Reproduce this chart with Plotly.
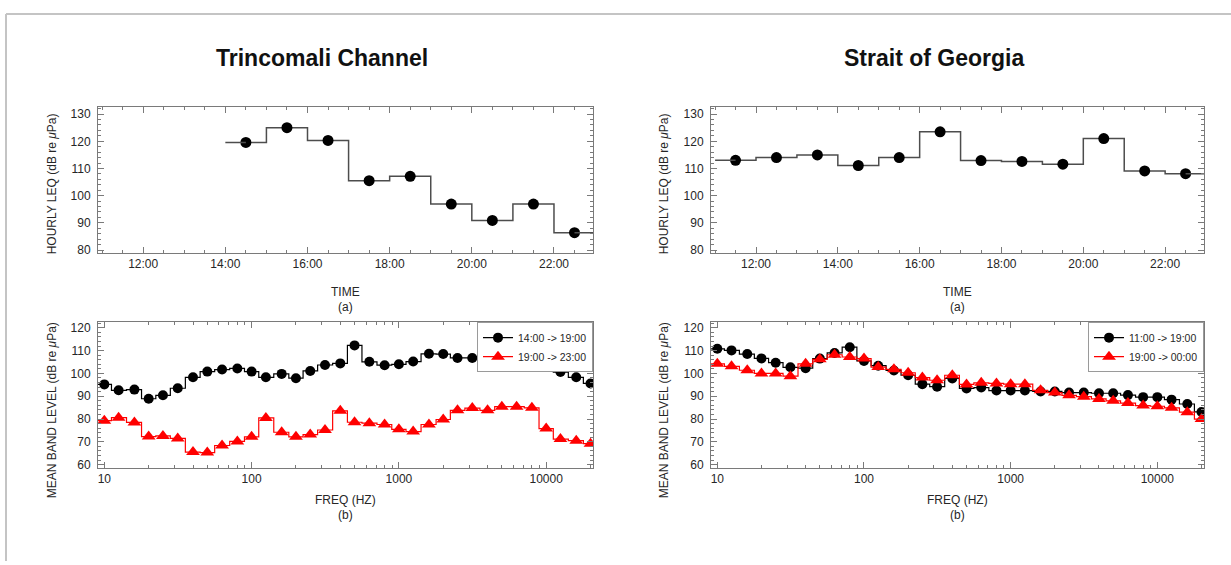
import numpy as np
import plotly.graph_objects as go

# ---------------- data ----------------
# hourly Leq, hour centres (decimal hours)
trinc_hours = [14.5, 15.5, 16.5, 17.5, 18.5, 19.5, 20.5, 21.5, 22.5]
trinc_leq = [119.6, 125.0, 120.3, 105.5, 107.1, 96.9, 90.9, 96.9, 86.4]

georgia_hours = [11.5, 12.5, 13.5, 14.5, 15.5, 16.5, 17.5, 18.5, 19.5, 20.5, 21.5, 22.5]
georgia_leq = [113.0, 114.0, 115.0, 111.1, 114.0, 123.5, 112.9, 112.6, 111.6, 121.0, 109.1, 108.1]

# one-third octave band centre frequencies (Hz)
freq_bands = [10, 12.5, 16, 20, 25, 31.5, 40, 50, 63, 80, 100, 125, 160, 200, 250,
              315, 400, 500, 630, 800, 1000, 1250, 1600, 2000, 2500, 3150, 4000,
              5000, 6300, 8000, 10000, 12500, 16000, 20000]

trinc_day = [95.2, 92.6, 92.9, 88.9, 90.4, 93.5, 98.3, 100.8, 101.7, 102.2, 100.8, 98.3,
             99.8, 97.9, 101.1, 103.7, 104.4, 112.3, 105.1, 103.6, 104.0, 105.2, 108.6,
             108.5, 106.8, 106.8, 105.2, 105.2, 105.2, 104.4, 103.0, 100.6, 98.3, 95.6]
trinc_night = [79.3, 80.6, 78.5, 72.3, 72.6, 71.5, 65.5, 65.3, 68.4, 70.2, 72.2, 80.5,
               74.2, 72.2, 73.2, 75.2, 83.6, 78.6, 78.2, 77.6, 75.5, 74.5, 77.6, 79.8,
               83.8, 84.8, 83.8, 85.4, 85.4, 84.9, 75.8, 71.2, 70.5, 69.2]

georgia_day = [110.8, 110.1, 108.5, 106.6, 104.7, 102.7, 102.3, 106.5, 109.0, 111.5,
               105.5, 103.4, 101.3, 99.2, 95.3, 94.2, 97.8, 93.4, 93.8, 92.5, 92.5, 92.5,
               92.1, 92.1, 91.6, 91.6, 91.3, 91.3, 90.5, 89.6, 89.6, 88.5, 86.6, 83.1]
georgia_night = [104.2, 103.1, 101.4, 100.0, 100.0, 98.8, 104.2, 106.2, 108.2, 107.2,
                 106.5, 102.8, 101.8, 100.3, 98.2, 97.0, 99.2, 95.2, 95.9, 95.6, 95.3,
                 95.3, 92.6, 91.6, 90.4, 89.8, 88.8, 88.0, 87.0, 85.9, 85.6, 84.9, 83.0, 80.0]

time_ticks = [12, 14, 16, 18, 20, 22]
time_labels = ["12:00", "14:00", "16:00", "18:00", "20:00", "22:00"]
freq_ticks = [10, 100, 1000, 10000]
freq_labels = ["10", "100", "1000", "10000"]

legend_left = ["14:00 -> 19:00", "19:00 -> 23:00"]
legend_right = ["11:00 -> 19:00", "19:00 -> 00:00"]

# ---------------- layout helpers ----------------
W, H = 1231, 565
FONT = "Liberation Sans, Arial, Helvetica, sans-serif"
TXT = "#262626"
AX = "#7a7a7a"


def px(x):
    return x / W


def py(y):
    return 1 - y / H


LEFT = (98, 593)
RIGHT = (711, 1204)
TOP = (107, 254)
BOT = (324, 471)


def edges_lin(c):
    c = np.asarray(c, float)
    half0 = (c[1] - c[0]) / 2
    half1 = (c[-1] - c[-2]) / 2
    return c[0] - half0, c[-1] + half1


def edges_log(c):
    c = np.asarray(c, float)
    return c[0] / np.sqrt(c[1] / c[0]), c[-1] * np.sqrt(c[-1] / c[-2])


fig = go.Figure()


def step_series(x, y, xa, ya, color, line_color, symbol, size, name=None,
                legend=None, log=False, lw=1.2):
    show = name is not None
    fig.add_trace(go.Scatter(
        x=x, y=y, xaxis=xa, yaxis=ya, mode="lines+markers",
        line=dict(shape="hvh", color=line_color, width=lw),
        marker=dict(symbol=symbol, size=size, color=color, line=dict(width=0)),
        name=name or "", showlegend=show, legend=legend or "legend",
        hoverinfo="x+y"))
    lo, hi = edges_log(x) if log else edges_lin(x)
    fig.add_trace(go.Scatter(
        x=[lo, x[0], None, x[-1], hi], y=[y[0], y[0], None, y[-1], y[-1]],
        xaxis=xa, yaxis=ya, mode="lines",
        line=dict(color=line_color, width=lw), showlegend=False,
        hoverinfo="skip", connectgaps=False))


# top row: hourly Leq
step_series(trinc_hours, trinc_leq, "x", "y", "black", "#4d4d4d", "circle", 11, lw=1.5)
step_series(georgia_hours, georgia_leq, "x2", "y2", "black", "#4d4d4d", "circle", 11, lw=1.5)

# bottom row: mean band levels
step_series(freq_bands, trinc_day, "x3", "y3", "black", "black", "circle", 10,
            name=legend_left[0], legend="legend", log=True)
step_series(freq_bands, trinc_night, "x3", "y3", "#ff0000", "#ff0000", "triangle-up", 12,
            name=legend_left[1], legend="legend", log=True)
step_series(freq_bands, georgia_day, "x4", "y4", "black", "black", "circle", 10,
            name=legend_right[0], legend="legend2", log=True)
step_series(freq_bands, georgia_night, "x4", "y4", "#ff0000", "#ff0000", "triangle-up", 12,
            name=legend_right[1], legend="legend2", log=True)

# minor ticks at 2..9 within each decade
log_minor = [m * 10 ** k for k in range(0, 5) for m in range(2, 10)]


def axis_common():
    return dict(showline=True, linecolor=AX, linewidth=1, mirror="ticks",
                ticks="inside", ticklen=6, tickcolor=AX, tickwidth=1,
                showgrid=False, zeroline=False,
                tickfont=dict(family=FONT, size=12, color=TXT))


def time_axis(dom, anchor):
    d = axis_common()
    d.update(domain=[px(dom[0]), px(dom[1])], anchor=anchor, range=[10.9, 22.95],
             tickvals=time_ticks, ticktext=time_labels,
             minor=dict(ticks="inside", ticklen=3, dtick=0.5, tickcolor=AX, showgrid=False))
    return d


def freq_axis(dom, anchor):
    d = axis_common()
    d.update(domain=[px(dom[0]), px(dom[1])], anchor=anchor, type="log",
             range=[0.957, 4.318], tickvals=freq_ticks, ticktext=freq_labels,
             minor=dict(ticks="inside", ticklen=3, tickmode="array", tickvals=log_minor,
                        tickcolor=AX, showgrid=False))
    return d


def level_axis(dom, anchor, rng, ticks):
    d = axis_common()
    d.update(domain=[py(dom[1]), py(dom[0])], anchor=anchor, range=rng,
             tickvals=ticks, ticklabelstandoff=4,
             minor=dict(ticks="inside", ticklen=3, dtick=2, tickcolor=AX, showgrid=False))
    return d


leq_ticks = [80, 90, 100, 110, 120, 130]
band_ticks = [60, 70, 80, 90, 100, 110, 120]

legend_style = dict(bgcolor="white", bordercolor="#9a9a9a", borderwidth=1,
                    font=dict(family=FONT, size=10.5, color=TXT), tracegroupgap=0,
                    itemwidth=30, yanchor="top", xanchor="right", y=py(BOT[0]))

fig.update_layout(
    width=W, height=H, margin=dict(l=0, r=0, t=0, b=0),
    paper_bgcolor="white", plot_bgcolor="white",
    font=dict(family=FONT, color=TXT),
    xaxis=time_axis(LEFT, "y"),
    yaxis=level_axis(TOP, "x", [79.0, 132.6], leq_ticks),
    xaxis2=time_axis(RIGHT, "y2"),
    yaxis2=level_axis(TOP, "x2", [79.0, 132.6], leq_ticks),
    xaxis3=freq_axis(LEFT, "y3"),
    yaxis3=level_axis(BOT, "x3", [58.6, 122.5], band_ticks),
    xaxis4=freq_axis(RIGHT, "y4"),
    yaxis4=level_axis(BOT, "x4", [58.6, 122.5], band_ticks),
    legend=dict(x=px(LEFT[1]), **legend_style),
    legend2=dict(x=px(RIGHT[1]), **legend_style),
    showlegend=True,
)

ann = []


def text(x, y, s, size=12, bold=False, angle=0):
    ann.append(dict(x=px(x), y=py(y), xref="paper", yref="paper", text=s,
                    showarrow=False, textangle=angle, xanchor="center", yanchor="middle",
                    font=dict(family=FONT, size=size, color="#111" if bold else TXT)))


text(322, 58, "<b>Trincomali Channel</b>", size=23, bold=True)
text(934, 58, "<b>Strait of Georgia</b>", size=23, bold=True)

for cx in ((LEFT[0] + LEFT[1]) / 2, (RIGHT[0] + RIGHT[1]) / 2):
    text(cx, 294, "TIME", size=12)
    text(cx, 309, "(a)", size=12)
    text(cx, 503, "FREQ (HZ)", size=12)
    text(cx, 519, "(b)", size=12)

for lx in (52, 664):
    text(lx, 185, "HOURLY LEQ (dB re <i>μ</i>Pa)", size=12, angle=-90)
    text(lx, 413, "MEAN BAND LEVEL (dB re <i>μ</i>Pa)", size=12, angle=-90)

fig.update_layout(annotations=ann)

# outer frame
fig.add_shape(type="line", xref="paper", yref="paper", x0=px(6), y0=py(13), x1=1, y1=py(13),
              line=dict(color="#c4c4c4", width=2))
fig.add_shape(type="line", xref="paper", yref="paper", x0=px(6), y0=py(13), x1=px(6), y1=0,
              line=dict(color="#c4c4c4", width=2))

fig.write_html("out.html")
